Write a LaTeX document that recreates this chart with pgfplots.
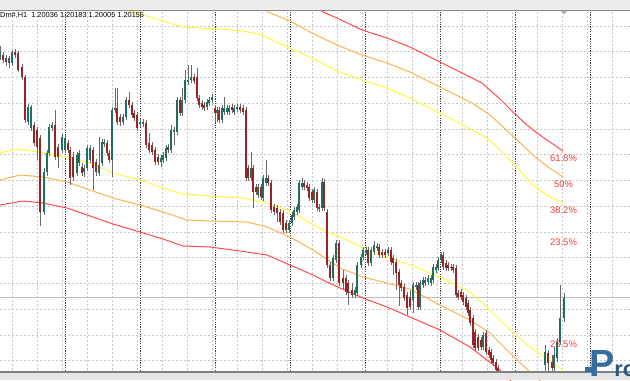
\documentclass[border=0pt]{standalone}
\usepackage{pgfplots}
\usepackage{pgfplotstable}
\pgfplotsset{compat=1.18}
\usepackage{fontspec}
\setmainfont{Liberation Sans}
\definecolor{bull}{RGB}{30,110,98}
\definecolor{bear}{RGB}{150,38,38}
\definecolor{wick}{RGB}{105,105,105}
\definecolor{fy}{RGB}{255,250,60}
\definecolor{fo}{RGB}{255,178,80}
\definecolor{fr}{RGB}{255,75,75}
\definecolor{lbl}{RGB}{240,60,60}
\definecolor{logo}{RGB}{55,110,160}

% candle tables: x, high (h), body top (t), body bottom (b), low (l) -- screen units, y downward
\pgfplotstableread{
x h t b l
0 46 53 58 60
9 56 58 63 68
12 50 52 63 66
28 104 107 122 125
31 105 107 128 131
44 168 172 212 215
47 150 153 172 176
49 124 127 153 156
52 122 125 128 131
62 134 137 150 153
65 135 138 150 153
77 152 155 173 176
79 150 153 163 166
84 165 168 172 177
87 145 148 168 171
90 145 148 160 163
99 137 165 173 176
102 139 142 163 166
104 139 142 144 147
112 107 110 160 177
115 88 108 110 113
123 114 117 122 125
126 97 100 117 120
140 119 122 124 127
143 119 122 124 127
161 155 158 162 167
163 152 155 160 163
166 145 148 158 161
171 125 130 150 153
174 127 130 132 145
177 97 100 132 135
182 88 100 113 116
185 70 80 100 103
188 65 80 82 85
191 65 77 80 83
207 99 102 107 110
209 97 100 103 106
212 94 97 100 103
217 107 110 113 122
222 105 108 120 123
224 97 108 112 115
227 105 108 112 115
229 105 108 112 115
234 105 108 112 115
237 104 107 109 112
251 152 168 178 181
258 184 187 195 198
263 175 178 198 201
266 160 178 183 186
289 220 223 230 233
292 212 215 223 226
294 207 210 217 220
297 204 207 212 215
299 180 183 210 213
302 178 183 187 190
314 187 190 200 203
319 204 207 209 212
322 178 182 208 211
333 255 258 278 281
336 240 243 260 263
355 287 290 295 298
357 262 265 293 296
361 254 257 265 268
363 247 250 257 260
366 247 250 252 255
371 247 250 263 266
374 241 245 252 255
377 243 246 248 251
388 247 250 253 256
413 282 285 300 313
416 282 285 287 290
420 280 283 307 310
423 277 280 285 288
425 277 280 283 286
428 275 278 282 285
431 275 278 283 286
433 264 267 280 283
436 264 267 270 273
438 257 260 268 271
441 252 255 260 263
483 332 335 347 350
545 345 352 365 380
554 347 355 368 372
557 338 342 358 362
560 285 318 342 345
564 293 298 318 322
}\bulltab

\pgfplotstableread{
x h t b l
3 52 55 60 63
6 55 58 62 66
15 49 52 55 58
18 51 53 70 72
22 64 67 77 80
25 75 77 120 123
34 122 125 143 146
37 127 130 147 160
40 135 138 212 226
55 110 125 157 160
58 144 147 157 168
68 140 143 150 153
70 147 150 178 185
73 152 157 177 181
82 163 167 173 176
93 147 150 168 190
96 159 162 172 176
107 140 143 153 156
109 150 153 160 163
117 88 108 122 125
120 114 117 122 126
129 92 100 105 108
132 102 105 115 118
134 110 113 118 121
137 112 115 128 131
146 120 123 145 148
149 133 143 150 153
152 142 145 152 155
155 147 150 162 165
158 154 157 162 165
168 144 147 150 153
180 97 100 113 116
194 74 77 81 84
197 68 77 98 101
199 95 98 105 108
202 100 103 107 110
204 102 105 108 111
215 105 108 113 122
219 107 110 120 123
232 104 107 110 113
240 104 107 110 113
243 105 108 112 115
246 107 110 178 181
248 165 168 178 181
253 165 168 192 208
256 184 187 192 195
261 184 187 197 200
268 175 178 183 186
271 180 183 210 213
274 204 207 212 215
277 205 208 213 222
280 209 212 222 225
283 210 213 230 233
286 220 223 230 233
304 180 183 187 190
307 182 185 188 191
309 184 187 198 201
312 189 192 200 203
317 189 192 208 211
324 179 182 208 211
327 209 212 265 268
330 262 265 278 281
339 240 243 283 286
343 270 278 283 290
346 275 278 292 295
348 280 283 293 305
352 283 290 295 298
368 247 250 263 266
379 244 247 255 258
382 249 252 255 258
385 249 252 255 258
391 247 250 262 265
393 255 258 263 275
396 259 262 273 290
399 269 272 285 306
401 280 283 288 291
404 284 287 298 301
407 292 295 308 315
410 290 297 307 310
418 282 285 307 310
443 252 255 267 270
446 260 263 268 271
448 262 265 268 271
451 264 267 268 271
453 264 267 270 273
456 265 268 295 298
458 290 293 297 300
461 289 292 297 300
463 292 295 302 305
466 295 298 307 310
468 300 303 313 316
470 307 310 323 326
473 315 318 345 348
475 329 332 348 351
478 334 337 348 351
481 337 340 347 350
486 330 333 352 355
489 347 350 355 358
491 349 352 360 363
493 355 358 363 366
496 359 362 370 373
498 365 368 373 376
548 350 353 363 372
552 355 362 368 372
}\beartab

\begin{document}
\begin{tikzpicture}
\begin{axis}[
  name=ax,
  scale only axis, width=630bp, height=380bp,
  xmin=0, xmax=630, ymin=0, ymax=380, y dir=reverse,
  axis line style={draw=none},
  major tick length=0pt,
  xticklabels={}, yticklabels={},
  xtick={12,37,...,612},
  ytick={26,51.75,77.5,103.25,129,154.75,180.5,206.25,232,257.75,283.5,309.25,335,360.75},
  xmajorgrids, ymajorgrids,
  major grid style={color=black!22, line width=0.7bp, dash pattern=on 2bp off 2bp},
  extra x ticks={65.7,140.7,215.7,290.5,365.5,440.5,515.3,590},
  extra x tick labels={},
  extra x tick style={grid=major, major grid style={color=black!75, line width=0.9bp, dash pattern=on 1.2bp off 1.2bp}},
  clip=true,
]
% bid line
\addplot[black!25, line width=0.9bp] coordinates {(0,297.7) (630,297.7)};

% upper bands
\addplot[fy, line width=1bp] coordinates {(120,6) (130,11) (143,15) (160,20) (183,27) (200,28) (220,29) (243,31) (262,35) (287,47) (312,58) (337,71) (362,80) (387,88) (410,98) (440,113) (463,125) (487,138) (500,150) (515,165) (533,185) (548,196) (563,203)};
\addplot[fo, line width=1bp] coordinates {(258,6) (268,12) (290,21) (312,33) (337,45) (362,55) (387,63) (410,72) (440,87) (472,103) (490,115) (502,126) (515,138) (533,155) (548,167) (563,177)};
\addplot[fr, line width=1bp] coordinates {(315,6) (323,12) (337,18) (362,30) (387,38) (410,47) (440,62) (470,77) (482,83) (500,99) (514,113) (527,125) (533,130) (547,140) (563,151)};
% lower bands
\addplot[fy, line width=1bp] coordinates {(0,153) (12,150) (23,149) (37,152) (67,157) (90,163) (113,173) (140,180) (160,187) (183,194) (210,196) (243,198) (267,203) (290,211) (310,223) (327,232) (343,238) (363,248) (387,257) (410,265) (440,277) (470,292) (490,310) (507,327) (530,347) (563,370)};
\addplot[fo, line width=1bp] coordinates {(0,180) (20,175) (43,177) (67,182) (90,190) (113,198) (140,205) (163,212) (187,220) (210,221) (247,222) (267,227) (290,237) (313,250) (340,268) (363,277) (387,283) (410,289) (440,305) (470,320) (490,333) (510,353) (530,372) (545,385)};
\addplot[fr, line width=1bp] coordinates {(0,205) (23,201) (43,203) (67,208) (90,216) (113,224) (140,232) (163,239) (183,246) (210,247) (233,250) (267,255) (290,265) (313,275) (327,282) (340,288) (363,298) (387,307) (410,317) (440,330) (470,347) (500,370) (515,385)};

% level labels
\node[text=lbl, font=\fontsize{9.5}{10}\selectfont, inner sep=0] at (axis cs:563.5,158) {61.8\%};
\node[text=lbl, font=\fontsize{9.5}{10}\selectfont, inner sep=0] at (axis cs:563.5,184) {50\%};
\node[text=lbl, font=\fontsize{9.5}{10}\selectfont, inner sep=0] at (axis cs:563.5,210) {38.2\%};
\node[text=lbl, font=\fontsize{9.5}{10}\selectfont, inner sep=0] at (axis cs:563.5,242) {23.5\%};
\node[text=lbl, font=\fontsize{9.5}{10}\selectfont, inner sep=0] at (axis cs:563.5,344.5) {23.5\%};

% wicks
\addplot[wick, line width=0.8bp, quiver={u=0, v=\thisrow{l}-\thisrow{h}}] table[x=x, y=h] {\bulltab};
\addplot[wick, line width=0.8bp, quiver={u=0, v=\thisrow{l}-\thisrow{h}}] table[x=x, y=h] {\beartab};
% body outlines
\addplot[black!85, line width=2.5bp, quiver={u=0, v=\thisrow{b}-\thisrow{t}+0.8}] table[x=x, y expr=\thisrow{t}-0.4] {\bulltab};
\addplot[black!85, line width=2.5bp, quiver={u=0, v=\thisrow{b}-\thisrow{t}+0.8}] table[x=x, y expr=\thisrow{t}-0.4] {\beartab};
% bodies
\addplot[bull, line width=1.7bp, quiver={u=0, v=\thisrow{b}-\thisrow{t}}] table[x=x, y=t] {\bulltab};
\addplot[bear, line width=1.7bp, quiver={u=0, v=\thisrow{b}-\thisrow{t}}] table[x=x, y=t] {\beartab};

% window frame top and bottom
\fill[black!7] (axis cs:0,0) rectangle (axis cs:630,10);
\draw[black!45, line width=0.8bp] (axis cs:0,10.4) -- (axis cs:630,10.4);
\fill[gray!60] (axis cs:560.5,10.8) -- (axis cs:567.5,10.8) -- (axis cs:564,14.5) -- cycle;
\fill[black!10] (axis cs:0,372) rectangle (axis cs:630,380);
\draw[black!50, line width=1.6bp] (axis cs:0,371.8) -- (axis cs:630,371.8);

% header
\node[anchor=west, inner sep=0, font=\fontsize{7.4}{8}\selectfont] at (axis cs:0,15.5) {Dm\#,H1\ \ 1.20036 1.20183 1.20005 1.20155};

% logo
\fill[logo] (axis cs:585,367) rectangle (axis cs:592,372);
\node[anchor=base west, inner sep=0, text=logo, font=\bfseries] at (axis cs:589,376) {\fontsize{38}{38}\selectfont P\fontsize{22}{22}\selectfont\color{logo!80!black}ro};
\end{axis}
\pgfresetboundingbox
\path[use as bounding box] (ax.south west) rectangle (ax.north east);
\end{tikzpicture}
\end{document}
